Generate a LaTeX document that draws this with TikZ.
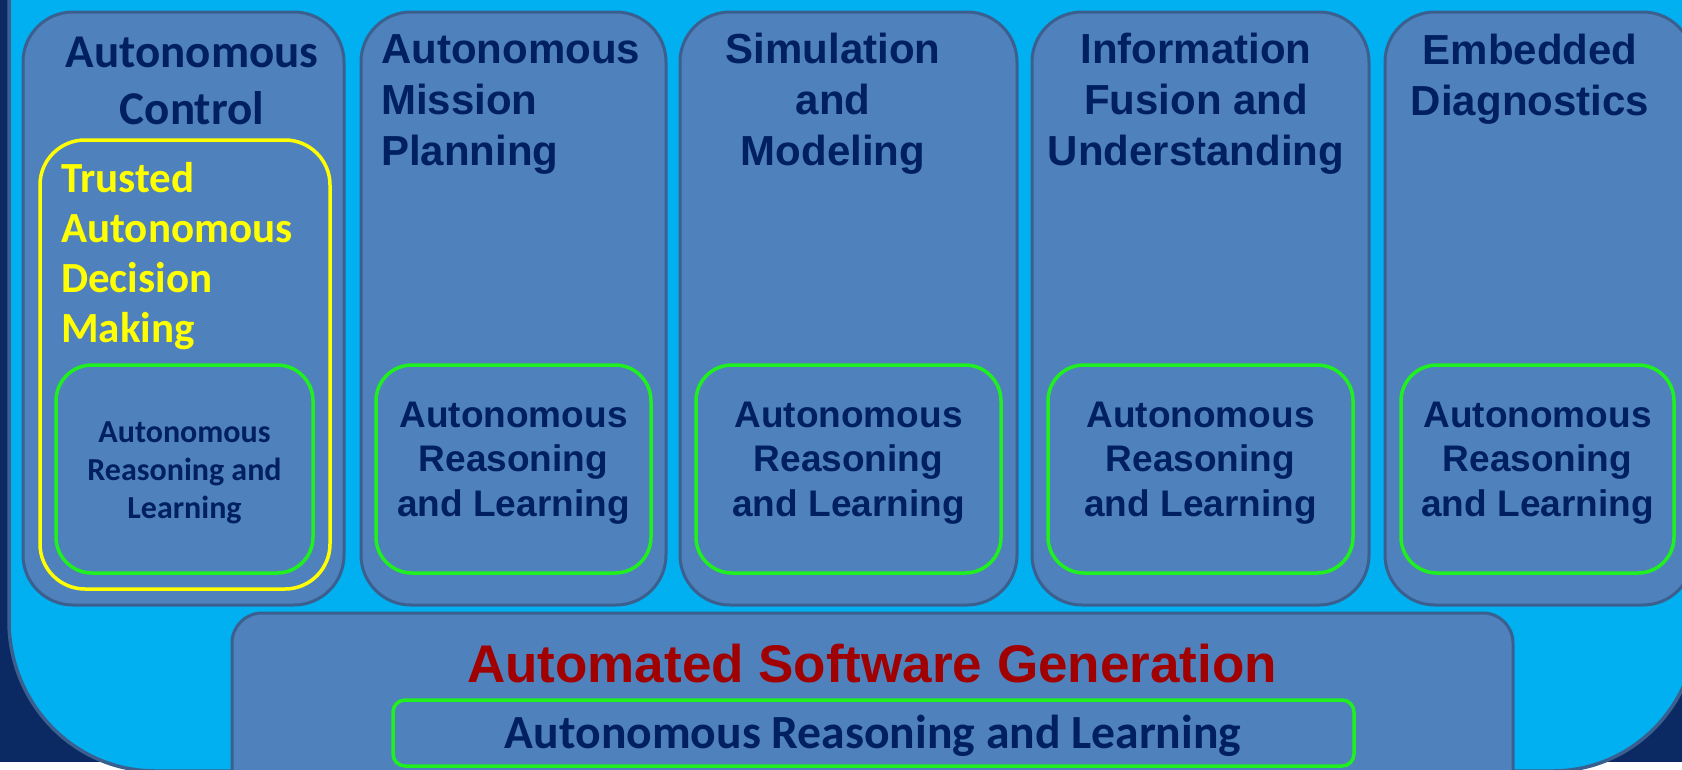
\documentclass[tikz,border=0pt]{standalone}
\usepackage{fontspec}
\setmainfont{Liberation Sans}
\newfontfamily\carlito{Carlito}

\definecolor{deepnavy}{HTML}{0B2A63}
\definecolor{skyblue}{HTML}{00B0F0}
\definecolor{boxfill}{HTML}{4F81BD}
\definecolor{boxedge}{HTML}{3B5F8F}
\definecolor{inktext}{HTML}{002060}
\definecolor{arlgreen}{HTML}{20F020}
\definecolor{trustyellow}{HTML}{FFFF00}
\definecolor{asgred}{HTML}{A00000}

\begin{document}
\begin{tikzpicture}[x=1pt,y=-1pt,
  colbox/.style={fill=boxfill, draw=boxedge, line width=3pt, rounded corners=50pt},
  arlbox/.style={draw=arlgreen, line width=3.5pt, rounded corners=36pt},
  head/.style={inner sep=0pt, text=inktext, align=center, anchor=base,
    font=\fontsize{42}{51}\selectfont\bfseries},
  arltext/.style={inner sep=0pt, text=inktext, align=center, anchor=base,
    font=\fontsize{37}{44.5}\selectfont\bfseries},
  calhead/.style={inner sep=0pt, text=inktext, align=center, anchor=base,
    font=\carlito\bfseries\fontsize{47}{57}\selectfont},
]
\useasboundingbox (0,0) rectangle (1682,769);
\clip (0,0) rectangle (1682,769);

% backdrop
\fill[deepnavy] (0,0) rectangle (1682,769);
\fill[white] (0,762) rectangle (1682,769);

% large panel with rounded lower corners
\filldraw[fill=skyblue, draw=boxedge, line width=3.5pt]
  (9,-60) -- (9,621)
  arc[start angle=180, end angle=90, x radius=146, y radius=150]
  -- (1553,771)
  arc[start angle=90, end angle=0, x radius=145, y radius=150]
  -- (1698,-60) -- cycle;

% capability columns
\draw[colbox] (23,12) rectangle (344,605);
\draw[colbox] (361,12) rectangle (666,605);
\draw[colbox] (680,12) rectangle (1017,605);
\draw[colbox] (1032,12) rectangle (1369,605);
\draw[colbox] (1385,12) rectangle (1693,605);

% trusted decision making frame
\draw[draw=trustyellow, line width=3.5pt, rounded corners=45pt] (40,140) rectangle (330,589);

% reasoning and learning cores
\draw[arlbox] (56,365) rectangle (313,573);
\draw[arlbox] (376,365) rectangle (651,573);
\draw[arlbox] (696,365) rectangle (1001,573);
\draw[arlbox] (1048,365) rectangle (1353,573);
\draw[arlbox] (1401,365) rectangle (1674,573);

% software generation base
\draw[fill=boxfill, draw=boxedge, line width=3pt, rounded corners=30pt] (232,613) rectangle (1513,800);
\draw[draw=arlgreen, line width=3.5pt, rounded corners=12pt] (393,700) rectangle (1354,766);

% column headings (anchored on the baseline of the last line)
\node[calhead] (hcontrol) at (192,124) {Autonomous\\Control};
\node[head, align=left, anchor=base west] (hmission) at (381,165) {Autonomous\\Mission\\Planning};
\node[head] (hsim) at (833,165) {Simulation\\and\\Modeling};
\node[head] (hfusion) at (1196,165) {Information\\Fusion and\\Understanding};
\node[head] (hdiag) at (1530,115) {Embedded\\Diagnostics};

% trusted decision making label
\node[inner sep=0pt, text=trustyellow, align=left, anchor=base west,
  font=\carlito\bfseries\fontsize{43}{50}\selectfont] (trusted) at (61,342)
  {Trusted\\Autonomous\\Decision\\Making};

% reasoning and learning labels
\node[inner sep=0pt, text=inktext, align=center, anchor=base,
  font=\carlito\bfseries\fontsize{32}{38}\selectfont] (arl1) at (184.5,518)
  {Autonomous\\Reasoning and\\Learning};
\node[arltext] (arl2) at (513.5,516) {Autonomous\\Reasoning\\and Learning};
\node[arltext] (arl3) at (848.5,516) {Autonomous\\Reasoning\\and Learning};
\node[arltext] (arl4) at (1200.5,516) {Autonomous\\Reasoning\\and Learning};
\node[arltext] (arl5) at (1537.5,516) {Autonomous\\Reasoning\\and Learning};

% base labels
\node[inner sep=0pt, text=asgred, anchor=base,
  font=\fontsize{53}{60}\selectfont\bfseries] (asg) at (872,682) {Automated Software Generation};
\node[inner sep=0pt, text=inktext, anchor=base,
  font=\carlito\bfseries\fontsize{47.6}{55}\selectfont] (arlbase) at (873,748) {Autonomous Reasoning and Learning};
\end{tikzpicture}
\end{document}
